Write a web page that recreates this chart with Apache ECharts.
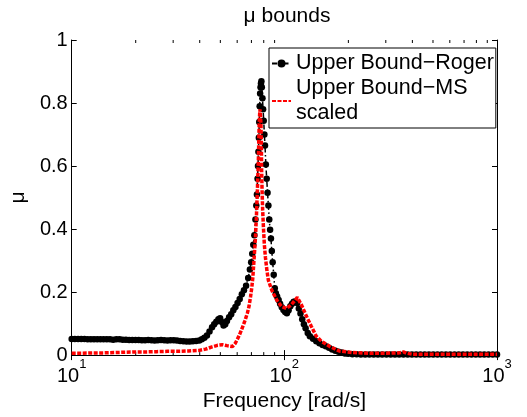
<!DOCTYPE html>
<html>
<head>
<meta charset="utf-8">
<script src="https://cdn.jsdelivr.net/npm/echarts@6/dist/echarts.min.js"></script>
<style>
  html, body { margin: 0; padding: 0; background: #fff; }
  #chart { width: 527px; height: 417px; }
</style>
</head>
<body>
<div id="chart"></div>
<script>
// frequencies are kept as decade exponents (log10 of rad/s)
const blackLogF = [
  1.000, 1.015, 1.030, 1.045, 1.060, 1.075, 1.090, 1.105, 1.120, 1.135,
  1.150, 1.165, 1.180, 1.195, 1.210, 1.225, 1.240, 1.255, 1.270, 1.285,
  1.300, 1.315, 1.330, 1.345, 1.360, 1.375, 1.390, 1.405, 1.420, 1.435,
  1.450, 1.465, 1.480, 1.495, 1.510, 1.525, 1.540, 1.555, 1.570, 1.585,
  1.600, 1.612, 1.624, 1.636, 1.648, 1.660, 1.670, 1.680, 1.690, 1.698,
  1.706, 1.714, 1.722, 1.730, 1.740, 1.750, 1.760, 1.770, 1.780, 1.790,
  1.800, 1.810, 1.820, 1.830, 1.838, 1.844, 1.849, 1.854, 1.859, 1.864,
  1.868, 1.871, 1.874, 1.876, 1.878, 1.880, 1.882, 1.884, 1.886, 1.888,
  1.890, 1.892, 1.894, 1.897, 1.900, 1.903, 1.906, 1.909, 1.913, 1.917,
  1.921, 1.925, 1.929, 1.933, 1.937, 1.941, 1.945, 1.950, 1.955, 1.960,
  1.966, 1.973, 1.980, 1.988, 1.996, 2.004, 2.012, 2.020, 2.028, 2.036,
  2.044, 2.052, 2.060, 2.068, 2.076, 2.084, 2.092, 2.100, 2.110, 2.120,
  2.135, 2.150, 2.165, 2.180, 2.195, 2.210, 2.225, 2.240, 2.255, 2.270,
  2.285, 2.300, 2.320, 2.340, 2.360, 2.380, 2.400, 2.420, 2.440, 2.460,
  2.480, 2.500, 2.520, 2.540, 2.560, 2.580, 2.600, 2.620, 2.640, 2.660,
  2.680, 2.700, 2.720, 2.740, 2.760, 2.780, 2.800, 2.820, 2.840, 2.860,
  2.880, 2.900, 2.920, 2.940, 2.960, 2.980, 3.000
];
const blackMu = [
  0.051, 0.051, 0.051, 0.051, 0.051, 0.050, 0.050, 0.050, 0.050, 0.050,
  0.050, 0.050, 0.050, 0.049, 0.050, 0.050, 0.049, 0.049, 0.048, 0.048,
  0.048, 0.048, 0.047, 0.047, 0.048, 0.047, 0.046, 0.047, 0.048, 0.047,
  0.046, 0.047, 0.047, 0.046, 0.045, 0.044, 0.043, 0.043, 0.044, 0.045,
  0.046, 0.050, 0.055, 0.062, 0.075, 0.088, 0.098, 0.106, 0.114, 0.117,
  0.105, 0.094, 0.098, 0.108, 0.120, 0.130, 0.142, 0.153, 0.165, 0.178,
  0.193, 0.206, 0.220, 0.245, 0.272, 0.295, 0.322, 0.350, 0.380, 0.430,
  0.475, 0.510, 0.560, 0.600, 0.645, 0.690, 0.740, 0.790, 0.830, 0.850,
  0.862, 0.869, 0.850, 0.815, 0.780, 0.744, 0.700, 0.665, 0.605, 0.560,
  0.515, 0.475, 0.430, 0.398, 0.370, 0.330, 0.295, 0.255, 0.212, 0.196,
  0.186, 0.175, 0.163, 0.152, 0.143, 0.137, 0.133, 0.142, 0.155, 0.163,
  0.169, 0.170, 0.165, 0.148, 0.132, 0.114, 0.098, 0.085, 0.070, 0.060,
  0.052, 0.044, 0.038, 0.032, 0.028, 0.023, 0.018, 0.014, 0.011, 0.008,
  0.005, 0.004, 0.003, 0.003, 0.002, 0.002, 0.002, 0.002, 0.002, 0.002,
  0.002, 0.002, 0.002, 0.002, 0.002, 0.002, 0.002, 0.002, 0.002, 0.002,
  0.002, 0.002, 0.002, 0.002, 0.002, 0.002, 0.002, 0.002, 0.002, 0.002,
  0.002, 0.002, 0.002, 0.002, 0.002, 0.002, 0.002
];
const redLogF = [
  1.000, 1.050, 1.100, 1.150, 1.200, 1.250, 1.300, 1.350, 1.400, 1.450,
  1.500, 1.550, 1.600, 1.630, 1.660, 1.685, 1.709, 1.730, 1.756, 1.768,
  1.779, 1.790, 1.802, 1.814, 1.826, 1.834, 1.841, 1.847, 1.852, 1.857,
  1.861, 1.864, 1.868, 1.872, 1.875, 1.878, 1.880, 1.882, 1.885, 1.888,
  1.890, 1.892, 1.893, 1.895, 1.898, 1.902, 1.906, 1.911, 1.918, 1.925,
  1.941, 1.964, 1.987, 2.010, 2.033, 2.061, 2.080, 2.104, 2.127, 2.150,
  2.174, 2.212, 2.258, 2.320, 2.400, 2.480, 2.540, 2.560, 2.575, 2.600,
  2.700, 2.800, 2.900, 3.000
];
const redMu = [
  0.006, 0.006, 0.007, 0.007, 0.008, 0.009, 0.010, 0.010, 0.011, 0.012,
  0.012, 0.013, 0.015, 0.019, 0.026, 0.031, 0.033, 0.030, 0.027, 0.036,
  0.050, 0.066, 0.086, 0.108, 0.133, 0.155, 0.185, 0.215, 0.248, 0.300,
  0.340, 0.373, 0.430, 0.500, 0.560, 0.624, 0.687, 0.740, 0.780, 0.760,
  0.728, 0.666, 0.593, 0.530, 0.460, 0.400, 0.350, 0.310, 0.269, 0.237,
  0.206, 0.175, 0.154, 0.148, 0.160, 0.183, 0.160, 0.123, 0.091, 0.060,
  0.044, 0.028, 0.013, 0.008, 0.006, 0.006, 0.007, 0.010, 0.006, 0.003,
  0.003, 0.003, 0.003, 0.003
];
// minor log ticks (2..9 of each decade)
const minorTicks = [20, 30, 40, 50, 60, 70, 80, 90, 200, 300, 400, 500, 600, 700, 800, 900];

const FONT = '"Liberation Sans", Arial, Helvetica, sans-serif';
const nameRoger = 'Upper Bound\u2212Roger';
const nameMS = 'Upper Bound\u2212MS scaled';

const chart = echarts.init(document.getElementById('chart'), null, {renderer: 'canvas'});

const xCommon = {
  type: 'log',
  logBase: 10,
  min: 10,
  max: 1000,
  axisLine: {show: true, lineStyle: {color: '#000', width: 1}},
  axisTick: {show: true, inside: true, length: 5, lineStyle: {color: '#000'}},
  splitLine: {show: false},
  minorTick: {show: false}
};
const yCommon = {
  type: 'value',
  min: 0,
  max: 1,
  interval: 0.2,
  axisLine: {show: true, lineStyle: {color: '#000', width: 1}},
  axisTick: {show: true, inside: true, length: 5, lineStyle: {color: '#000'}},
  splitLine: {show: false}
};

chart.setOption({
  animation: false,
  backgroundColor: '#fff',
  textStyle: {fontFamily: FONT},
  title: {
    text: '\u03bc bounds',
    left: 282,
    textAlign: 'center',
    top: 1,
    textStyle: {fontSize: 21, fontWeight: 'normal', color: '#000', fontFamily: FONT}
  },
  grid: {left: 67, right: 30, top: 40, bottom: 58, show: false},
  legend: {
    data: [
      {name: nameRoger},
      {name: nameMS, itemStyle: {opacity: 0}}
    ],
    orient: 'vertical',
    left: 269,
    top: 48,
    padding: [3, 2, 2, 2],
    itemGap: 0,
    itemWidth: 19,
    itemHeight: 10,
    backgroundColor: '#fff',
    borderColor: '#000',
    borderWidth: 1,
    borderRadius: 0,
    formatter: name => name === nameMS ? 'Upper Bound\u2212MS\nscaled' : name,
    textStyle: {fontSize: 21.5, lineHeight: 25, color: '#000', fontFamily: FONT}
  },
  xAxis: [
    Object.assign({}, xCommon, {
      position: 'bottom',
      name: 'Frequency [rad/s]',
      nameLocation: 'middle',
      nameGap: 30,
      nameTextStyle: {fontSize: 21, color: '#000', fontFamily: FONT},
      axisLabel: {
        margin: 3,
        color: '#000',
        formatter: v => '{b|10}{s|' + Math.round(Math.log10(v)) + '}',
        rich: {
          b: {fontSize: 20, lineHeight: 36, color: '#000', fontFamily: FONT},
          s: {fontSize: 13, lineHeight: 14, verticalAlign: 'top', color: '#000', fontFamily: FONT}
        }
      }
    }),
    Object.assign({}, xCommon, {position: 'top', axisLabel: {show: false}})
  ],
  yAxis: [
    Object.assign({}, yCommon, {
      position: 'left',
      name: '\u03bc',
      nameLocation: 'middle',
      nameRotate: 90,
      nameGap: 40,
      nameTextStyle: {fontSize: 21, color: '#000', fontFamily: FONT},
      axisLabel: {margin: 4, fontSize: 20, color: '#000', fontFamily: FONT}
    }),
    Object.assign({}, yCommon, {position: 'right', axisLabel: {show: false}})
  ],
  series: [
    {
      name: nameRoger,
      type: 'line',
      xAxisIndex: 0,
      yAxisIndex: 0,
      data: blackLogF.map((e, i) => [Math.pow(10, e), blackMu[i]]),
      symbol: 'circle',
      symbolSize: 6.5,
      showAllSymbol: true,
      itemStyle: {color: '#000'},
      lineStyle: {color: '#000', width: 1.5, type: [5, 2.5, 1.5, 2.5]},
      z: 3
    },
    {
      name: nameMS,
      type: 'line',
      xAxisIndex: 0,
      yAxisIndex: 0,
      data: redLogF.map((e, i) => [Math.pow(10, e), redMu[i]]),
      symbol: 'none',
      itemStyle: {color: '#ff0000'},
      lineStyle: {color: '#ff0000', width: 3.5, type: [4, 1.5]},
      z: 4
    },
    {
      type: 'custom',
      xAxisIndex: 0,
      yAxisIndex: 0,
      silent: true,
      clip: false,
      data: minorTicks.map(v => [v]),
      renderItem: (params, api) => {
        const b = api.coord([api.value(0), 0]);
        const t = api.coord([api.value(0), 1]);
        return {
          type: 'group',
          children: [
            {type: 'line', shape: {x1: b[0], y1: b[1], x2: b[0], y2: b[1] - 3}, style: {stroke: '#000', lineWidth: 1}},
            {type: 'line', shape: {x1: t[0], y1: t[1], x2: t[0], y2: t[1] + 3}, style: {stroke: '#000', lineWidth: 1}}
          ]
        };
      },
      z: 2
    }
  ]
});
</script>
</body>
</html>
